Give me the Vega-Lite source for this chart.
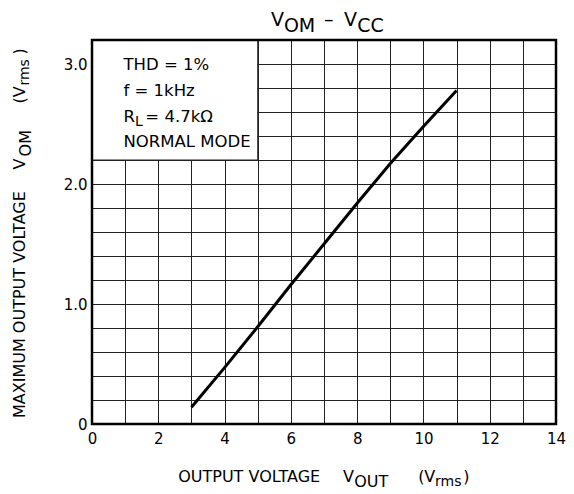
{
  "$schema": "https://vega.github.io/schema/vega-lite/v6.json",
  "width": 464,
  "height": 384,
  "autosize": {"type": "none"},
  "padding": {"left": 92, "top": 40, "right": 18, "bottom": 70},
  "background": "white",
  "config": {"view": {"stroke": null}, "font": "DejaVu Sans"},
  "datasets": {
    "curve": [
      {"vout": 3, "vom": 0.14},
      {"vout": 4, "vom": 0.47},
      {"vout": 5, "vom": 0.81},
      {"vout": 6, "vom": 1.16},
      {"vout": 7, "vom": 1.5},
      {"vout": 8, "vom": 1.84},
      {"vout": 9, "vom": 2.17},
      {"vout": 10, "vom": 2.48},
      {"vout": 11, "vom": 2.78}
    ],
    "box": [{"x": 0, "x2": 5, "y": 2.2, "y2": 3.2}],
    "frame": [{"x": 0, "x2": 14, "y": 0, "y2": 3.2}],
    "notes": [
      {"x": 0.95, "y": 2.95, "t": "THD = 1%"},
      {"x": 0.95, "y": 2.733, "t": "f = 1kHz"},
      {"x": 0.95, "y": 2.517, "t": "R"},
      {"x": 1.61, "y": 2.517, "t": "= 4.7kΩ"},
      {"x": 0.95, "y": 2.308, "t": "NORMAL MODE"}
    ],
    "noteSub": [{"x": 1.3, "y": 2.483, "t": "L"}],
    "title": [
      {"x": 5.4, "y": 3.317, "t": "V"},
      {"x": 7.0, "y": 3.317, "t": "–"},
      {"x": 7.6, "y": 3.317, "t": "V"}
    ],
    "titleSub": [
      {"x": 5.79, "y": 3.267, "t": "OM"},
      {"x": 8.0, "y": 3.267, "t": "CC"}
    ],
    "xtitle": [
      {"x": 2.6, "y": -0.483, "t": "OUTPUT VOLTAGE"},
      {"x": 7.57, "y": -0.483, "t": "V"},
      {"x": 9.84, "y": -0.483, "t": "(V"},
      {"x": 11.2, "y": -0.483, "t": ")"}
    ],
    "xtitleSub": [
      {"x": 7.91, "y": -0.525, "t": "OUT"}
    ],
    "xtitleSmall": [
      {"x": 10.35, "y": -0.515, "t": "rms"}
    ],
    "ytitle": [
      {"x": -2.02, "y": 0.05, "t": "MAXIMUM OUTPUT VOLTAGE"},
      {"x": -2.02, "y": 2.12, "t": "V"},
      {"x": -2.02, "y": 2.67, "t": "(V"},
      {"x": -2.02, "y": 3.08, "t": ")"}
    ],
    "ytitleSub": [
      {"x": -1.85, "y": 2.23, "t": "OM"}
    ],
    "ytitleSmall": [
      {"x": -1.9, "y": 2.82, "t": "rms"}
    ]
  },
  "layer": [
    {
      "data": {"name": "box"},
      "mark": {"type": "rect", "fill": "white", "stroke": "#222", "strokeWidth": 1},
      "encoding": {
        "x": {
          "field": "x", "type": "quantitative",
          "scale": {"domain": [0, 14], "nice": false, "zero": false},
          "axis": {
            "values": [0, 1, 2, 3, 4, 5, 6, 7, 8, 9, 10, 11, 12, 13, 14],
            "tickCount": 40,
            "format": "d",
            "labelExpr": "datum.value % 2 === 0 ? format(datum.value, 'd') : ''",
            "grid": true, "gridColor": "#222", "gridWidth": 1,
            "ticks": false, "domain": false, "title": null,
            "labelFontSize": 15, "labelColor": "black", "labelPadding": 7,
            "labelFlush": false, "labelOverlap": false
          }
        },
        "x2": {"field": "x2"},
        "y": {
          "field": "y", "type": "quantitative",
          "scale": {"domain": [0, 3.2], "nice": false, "zero": false},
          "axis": {
            "values": [0, 0.2, 0.4, 0.6, 0.8, 1, 1.2, 1.4, 1.6, 1.8, 2, 2.2, 2.4, 2.6, 2.8, 3, 3.2],
            "tickCount": 40,
            "labelExpr": "datum.value === 0 ? '0' : (abs(datum.value - round(datum.value)) < 0.001 ? format(datum.value, '.1f') : '')",
            "grid": true, "gridColor": "#222", "gridWidth": 1,
            "ticks": false, "domain": false, "title": null,
            "labelFontSize": 15, "labelColor": "black", "labelPadding": 5,
            "labelFlush": false, "labelOverlap": false
          }
        },
        "y2": {"field": "y2"}
      }
    },
    {
      "data": {"name": "curve"},
      "mark": {"type": "line", "color": "black", "strokeWidth": 3},
      "encoding": {
        "x": {"field": "vout", "type": "quantitative"},
        "y": {"field": "vom", "type": "quantitative"}
      }
    },
    {
      "data": {"name": "frame"},
      "mark": {"type": "rect", "fill": null, "fillOpacity": 0, "stroke": "black", "strokeWidth": 2.5},
      "encoding": {
        "x": {"field": "x", "type": "quantitative"},
        "x2": {"field": "x2"},
        "y": {"field": "y", "type": "quantitative"},
        "y2": {"field": "y2"}
      }
    },
    {
      "data": {"name": "notes"},
      "mark": {"type": "text", "align": "left", "baseline": "alphabetic", "fontSize": 16.5, "color": "black"},
      "encoding": {
        "x": {"field": "x", "type": "quantitative"},
        "y": {"field": "y", "type": "quantitative"},
        "text": {"field": "t"}
      }
    },
    {
      "data": {"name": "noteSub"},
      "mark": {"type": "text", "align": "left", "baseline": "alphabetic", "fontSize": 14, "color": "black"},
      "encoding": {
        "x": {"field": "x", "type": "quantitative"},
        "y": {"field": "y", "type": "quantitative"},
        "text": {"field": "t"}
      }
    },
    {
      "data": {"name": "title"},
      "mark": {"type": "text", "align": "left", "baseline": "alphabetic", "fontSize": 19, "color": "black"},
      "encoding": {
        "x": {"field": "x", "type": "quantitative"},
        "y": {"field": "y", "type": "quantitative"},
        "text": {"field": "t"}
      }
    },
    {
      "data": {"name": "titleSub"},
      "mark": {"type": "text", "align": "left", "baseline": "alphabetic", "fontSize": 19, "color": "black"},
      "encoding": {
        "x": {"field": "x", "type": "quantitative"},
        "y": {"field": "y", "type": "quantitative"},
        "text": {"field": "t"}
      }
    },
    {
      "data": {"name": "xtitle"},
      "mark": {"type": "text", "align": "left", "baseline": "alphabetic", "fontSize": 16, "color": "black"},
      "encoding": {
        "x": {"field": "x", "type": "quantitative"},
        "y": {"field": "y", "type": "quantitative"},
        "text": {"field": "t"}
      }
    },
    {
      "data": {"name": "xtitleSub"},
      "mark": {"type": "text", "align": "left", "baseline": "alphabetic", "fontSize": 16, "color": "black"},
      "encoding": {
        "x": {"field": "x", "type": "quantitative"},
        "y": {"field": "y", "type": "quantitative"},
        "text": {"field": "t"}
      }
    },
    {
      "data": {"name": "xtitleSmall"},
      "mark": {"type": "text", "align": "left", "baseline": "alphabetic", "fontSize": 14, "color": "black"},
      "encoding": {
        "x": {"field": "x", "type": "quantitative"},
        "y": {"field": "y", "type": "quantitative"},
        "text": {"field": "t"}
      }
    },
    {
      "data": {"name": "ytitle"},
      "mark": {"type": "text", "align": "left", "baseline": "alphabetic", "angle": 270, "fontSize": 16, "color": "black"},
      "encoding": {
        "x": {"field": "x", "type": "quantitative"},
        "y": {"field": "y", "type": "quantitative"},
        "text": {"field": "t"}
      }
    },
    {
      "data": {"name": "ytitleSub"},
      "mark": {"type": "text", "align": "left", "baseline": "alphabetic", "angle": 270, "fontSize": 16, "color": "black"},
      "encoding": {
        "x": {"field": "x", "type": "quantitative"},
        "y": {"field": "y", "type": "quantitative"},
        "text": {"field": "t"}
      }
    },
    {
      "data": {"name": "ytitleSmall"},
      "mark": {"type": "text", "align": "left", "baseline": "alphabetic", "angle": 270, "fontSize": 14, "color": "black"},
      "encoding": {
        "x": {"field": "x", "type": "quantitative"},
        "y": {"field": "y", "type": "quantitative"},
        "text": {"field": "t"}
      }
    }
  ]
}
